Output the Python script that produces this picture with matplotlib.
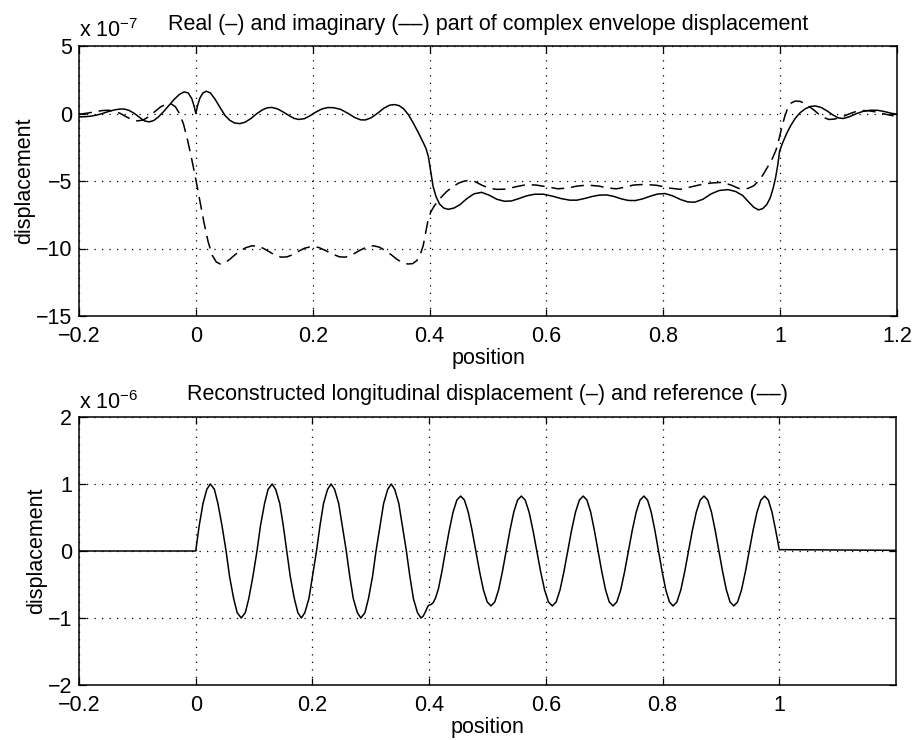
import matplotlib
matplotlib.use("Agg")
import matplotlib.pyplot as plt

plt.rcParams['font.family'] = ['Liberation Sans', 'DejaVu Sans']
plt.rcParams['mathtext.fontset'] = 'custom'
plt.rcParams['mathtext.rm'] = 'Liberation Sans'
plt.rcParams['mathtext.it'] = 'Liberation Sans'

# ---- top panel data (units of 1e-7) ----
real_x = [-0.200, -0.190, -0.180, -0.170, -0.160, -0.150, -0.140, -0.130, -0.122, -0.114,
          -0.105, -0.096, -0.088, -0.080, -0.072, -0.064, -0.055, -0.046, -0.037, -0.028,
          -0.020, -0.013, -0.007, -0.003, 0.000, 0.003, 0.007, 0.012, 0.018, 0.025,
          0.033, 0.042, 0.050, 0.058, 0.066, 0.075, 0.084, 0.094, 0.104, 0.114,
          0.122, 0.130, 0.140, 0.150, 0.160, 0.168, 0.176, 0.186, 0.196, 0.206,
          0.216, 0.226, 0.236, 0.248, 0.260, 0.272, 0.282, 0.290, 0.300, 0.312,
          0.322, 0.332, 0.340, 0.348, 0.356, 0.364, 0.372, 0.380, 0.388, 0.394,
          0.398, 0.402, 0.406, 0.411, 0.417, 0.424, 0.432, 0.442, 0.452, 0.464,
          0.476, 0.489, 0.502, 0.515, 0.528, 0.540, 0.553, 0.566, 0.580, 0.595,
          0.610, 0.625, 0.640, 0.652, 0.665, 0.678, 0.690, 0.703, 0.716, 0.728,
          0.740, 0.752, 0.765, 0.778, 0.790, 0.803, 0.816, 0.830, 0.842, 0.854,
          0.868, 0.882, 0.896, 0.911, 0.924, 0.936, 0.946, 0.955, 0.963, 0.970,
          0.977, 0.983, 0.988, 0.992, 0.996, 0.999, 1.004, 1.011, 1.018, 1.026,
          1.034, 1.043, 1.052, 1.060, 1.070, 1.080, 1.090, 1.100, 1.108, 1.118,
          1.130, 1.142, 1.154, 1.166, 1.178, 1.190, 1.200]
real_y = [-0.25, -0.24, -0.20, -0.12, 0.00, 0.14, 0.26, 0.33, 0.33, 0.22,
          0.00, -0.30, -0.55, -0.62, -0.52, -0.25, 0.15, 0.60, 1.05, 1.42,
          1.60, 1.52, 1.10, 0.55, 0.00, 0.60, 1.15, 1.52, 1.65, 1.52,
          1.05, 0.40, -0.15, -0.50, -0.70, -0.75, -0.65, -0.38, -0.02, 0.27,
          0.42, 0.45, 0.34, 0.10, -0.17, -0.36, -0.44, -0.38, -0.15, 0.12,
          0.34, 0.44, 0.43, 0.30, 0.02, -0.30, -0.47, -0.48, -0.32, 0.05,
          0.40, 0.62, 0.66, 0.58, 0.33, -0.10, -0.70, -1.35, -2.05, -2.60,
          -3.20, -4.30, -5.40, -6.15, -6.70, -7.00, -7.10, -7.00, -6.75, -6.30,
          -5.95, -5.84, -6.05, -6.35, -6.50, -6.48, -6.30, -6.10, -5.98, -5.98,
          -6.12, -6.30, -6.42, -6.42, -6.30, -6.15, -6.05, -6.03, -6.15, -6.32,
          -6.44, -6.45, -6.32, -6.12, -5.97, -5.93, -6.10, -6.38, -6.55, -6.57,
          -6.35, -5.95, -5.70, -5.64, -5.78, -6.08, -6.55, -6.95, -7.14, -7.05,
          -6.75, -6.25, -5.55, -4.80, -3.80, -2.80, -2.20, -1.50, -0.90, -0.35,
          0.05, 0.35, 0.52, 0.56, 0.45, 0.20, -0.10, -0.33, -0.37, -0.25,
          -0.02, 0.16, 0.24, 0.24, 0.15, 0.02, -0.05]

imag_x = [-0.200, -0.190, -0.180, -0.170, -0.160, -0.150, -0.140, -0.130, -0.120, -0.110,
          -0.100, -0.090, -0.080, -0.070, -0.060, -0.050, -0.042, -0.035, -0.028, -0.021,
          -0.014, -0.007, 0.000, 0.007, 0.014, 0.021, 0.028, 0.035, 0.042, 0.050,
          0.058, 0.066, 0.075, 0.085, 0.096, 0.106, 0.116, 0.126, 0.136, 0.146,
          0.156, 0.166, 0.176, 0.186, 0.198, 0.210, 0.222, 0.234, 0.246, 0.256,
          0.268, 0.280, 0.292, 0.304, 0.314, 0.324, 0.334, 0.344, 0.354, 0.363,
          0.371, 0.378, 0.384, 0.389, 0.393, 0.397, 0.402, 0.408, 0.415, 0.422,
          0.430, 0.440, 0.450, 0.460, 0.469, 0.478, 0.490, 0.503, 0.516, 0.532,
          0.548, 0.566, 0.582, 0.600, 0.620, 0.636, 0.652, 0.670, 0.690, 0.705,
          0.720, 0.735, 0.749, 0.768, 0.789, 0.810, 0.829, 0.846, 0.863, 0.882,
          0.900, 0.916, 0.932, 0.945, 0.955, 0.964, 0.972, 0.980, 0.987, 0.993,
          0.998, 1.003, 1.008, 1.013, 1.019, 1.026, 1.034, 1.042, 1.050, 1.058,
          1.066, 1.075, 1.083, 1.092, 1.100, 1.110, 1.120, 1.130, 1.140, 1.152,
          1.166, 1.180, 1.194]
imag_y = [-0.05, 0.00, 0.07, 0.15, 0.22, 0.24, 0.18, 0.02, -0.22, -0.45,
          -0.55, -0.48, -0.22, 0.15, 0.50, 0.70, 0.70, 0.50, 0.00, -0.80,
          -2.00, -3.40, -4.90, -6.50, -8.10, -9.50, -10.50, -11.00, -11.15, -11.05,
          -10.80, -10.50, -10.20, -9.95, -9.80, -9.82, -10.00, -10.25, -10.50, -10.64,
          -10.62, -10.45, -10.20, -9.98, -9.85, -9.92, -10.15, -10.42, -10.62, -10.64,
          -10.45, -10.15, -9.90, -9.80, -9.90, -10.15, -10.45, -10.80, -11.05, -11.15,
          -11.12, -10.90, -10.45, -9.80, -8.90, -8.00, -7.30, -6.85, -6.45, -6.10,
          -5.75, -5.42, -5.15, -5.00, -4.96, -5.05, -5.32, -5.55, -5.62, -5.60,
          -5.42, -5.27, -5.30, -5.42, -5.58, -5.52, -5.38, -5.30, -5.38, -5.52,
          -5.58, -5.45, -5.30, -5.25, -5.32, -5.52, -5.62, -5.45, -5.28, -5.15,
          -5.10, -5.30, -5.60, -5.55, -5.35, -4.95, -4.45, -3.85, -3.30, -2.70,
          -1.90, -1.00, -0.20, 0.40, 0.78, 0.92, 0.90, 0.75, 0.50, 0.25,
          -0.05, -0.30, -0.44, -0.42, -0.33, -0.18, 0.00, 0.15, 0.22, 0.20,
          0.10, -0.05, -0.18]

# ---- bottom panel data (units of 1e-6) ----
recon_x = [-0.200, 0.000, 0.006, 0.0125, 0.019, 0.025,
           0.032, 0.038, 0.045, 0.052, 0.058, 0.065, 0.071, 0.078,
           0.085, 0.091, 0.098, 0.105, 0.111, 0.118, 0.124, 0.131,
           0.137, 0.144, 0.150, 0.156, 0.162, 0.169, 0.175, 0.181,
           0.187, 0.194, 0.200, 0.207, 0.213, 0.219, 0.226, 0.232,
           0.238, 0.245, 0.251, 0.258, 0.264, 0.270, 0.277, 0.283,
           0.290, 0.296, 0.303, 0.309, 0.316, 0.322, 0.329, 0.335,
           0.341, 0.348, 0.354, 0.361, 0.367, 0.373, 0.380, 0.386,
           0.390, 0.394, 0.397, 0.399, 0.403, 0.407,
           0.411, 0.416, 0.422, 0.428, 0.4345, 0.441, 0.4475, 0.454,
           0.4605, 0.467, 0.4735, 0.480, 0.4865, 0.493, 0.4995, 0.506,
           0.5125, 0.519, 0.5255, 0.532, 0.5385, 0.545, 0.5515, 0.558,
           0.5646, 0.5713, 0.5779, 0.5845, 0.5911, 0.5978, 0.6044, 0.611,
           0.6176, 0.6243, 0.6309, 0.6375, 0.6441, 0.6508, 0.6574, 0.664,
           0.6704, 0.6768, 0.6831, 0.6895, 0.6959, 0.7023, 0.7086, 0.715,
           0.7216, 0.7283, 0.7349, 0.7415, 0.7481, 0.7548, 0.7614, 0.768,
           0.7743, 0.7805, 0.7868, 0.7930, 0.7993, 0.8055, 0.8118, 0.818,
           0.8246, 0.8313, 0.8379, 0.8445, 0.8511, 0.8578, 0.8644, 0.871,
           0.8774, 0.8838, 0.8901, 0.8965, 0.9029, 0.9093, 0.9156, 0.922,
           0.9286, 0.9353, 0.9419, 0.9485, 0.9551, 0.9618, 0.9684, 0.975,
           0.9813, 0.9875, 0.9938, 1.000, 1.200]
recon_y = [0.00, 0.00, 0.38, 0.71, 0.92, 1.00,
           0.92, 0.71, 0.38, 0.00, -0.38, -0.71, -0.92, -1.00,
           -0.92, -0.71, -0.38, 0.00, 0.38, 0.71, 0.92, 1.00,
           0.92, 0.71, 0.38, 0.00, -0.38, -0.71, -0.92, -1.00,
           -0.92, -0.71, -0.38, 0.00, 0.38, 0.71, 0.92, 1.00,
           0.92, 0.71, 0.38, 0.00, -0.38, -0.71, -0.92, -1.00,
           -0.92, -0.71, -0.38, 0.00, 0.38, 0.71, 0.92, 1.00,
           0.92, 0.71, 0.38, 0.00, -0.38, -0.71, -0.92, -1.00,
           -0.97, -0.90, -0.84, -0.81, -0.80, -0.77,
           -0.70, -0.56, -0.30, 0.00, 0.31, 0.58, 0.76, 0.82,
           0.76, 0.58, 0.31, 0.00, -0.31, -0.58, -0.76, -0.82,
           -0.76, -0.58, -0.31, 0.00, 0.31, 0.58, 0.76, 0.82,
           0.76, 0.58, 0.31, 0.00, -0.31, -0.58, -0.76, -0.82,
           -0.76, -0.58, -0.31, 0.00, 0.31, 0.58, 0.76, 0.82,
           0.76, 0.58, 0.31, 0.00, -0.31, -0.58, -0.76, -0.82,
           -0.76, -0.58, -0.31, 0.00, 0.31, 0.58, 0.76, 0.82,
           0.76, 0.58, 0.31, 0.00, -0.31, -0.58, -0.76, -0.82,
           -0.76, -0.58, -0.31, 0.00, 0.31, 0.58, 0.76, 0.82,
           0.76, 0.58, 0.31, 0.00, -0.31, -0.58, -0.76, -0.82,
           -0.76, -0.58, -0.31, 0.00, 0.31, 0.58, 0.76, 0.82,
           0.76, 0.58, 0.31, 0.02, 0.01]

top_xticks = [-0.2, 0, 0.2, 0.4, 0.6, 0.8, 1, 1.2]
top_xticklabels = ['\u22120.2', '0', '0.2', '0.4', '0.6', '0.8', '1', '1.2']
top_yticks = [5, 0, -5, -10, -15]
top_yticklabels = ['5', '0', '\u22125', '\u221210', '\u221215']
bot_xticks = [-0.2, 0, 0.2, 0.4, 0.6, 0.8, 1]
bot_xticklabels = ['\u22120.2', '0', '0.2', '0.4', '0.6', '0.8', '1']
bot_yticks = [2, 1, 0, -1, -2]
bot_yticklabels = ['2', '1', '0', '\u22121', '\u22122']

FS = 15.5

fig = plt.figure(figsize=(9.13, 7.40), dpi=100)
ax1 = fig.add_axes([79/913, 1-316/740, 818/913, 270/740])
ax2 = fig.add_axes([79/913, 1-685/740, 817/913, 268/740])

def style(ax):
    for s in ax.spines.values():
        s.set_linewidth(1.1)
        s.set_color('black')
    ax.tick_params(direction='in', length=5, width=0.9, top=True, right=True,
                   labelsize=FS, colors='black')
    ax.tick_params(axis='x', pad=7)
    ax.tick_params(axis='y', pad=5)
    ax.grid(True, color='black', linestyle=(0, (1, 5)), linewidth=0.9)

ax1.plot(real_x, real_y, color='black', lw=1.1, solid_joinstyle='round')
l2, = ax1.plot(imag_x, imag_y, color='black', lw=1.1)
l2.set_dashes([8.5, 4.5])
ax1.set_xlim(-0.2, 1.2)
ax1.set_ylim(-15, 5)
ax1.set_xticks(top_xticks)
ax1.set_xticklabels(top_xticklabels)
ax1.set_yticks(top_yticks)
ax1.set_yticklabels(top_yticklabels)
style(ax1)
ax1.set_xlabel('position', fontsize=FS, labelpad=1)
ax1.set_ylabel('displacement', fontsize=FS, labelpad=0)
ax1.set_title('Real (\u2013) and imaginary (\u2013\u2013) part of complex envelope displacement',
              fontsize=FS, pad=11.5)
ax1.annotate('x 10$^{\u22127}$', xy=(0, 1), xycoords='axes fraction',
             xytext=(0, 6.5), textcoords='offset points', fontsize=FS,
             ha='left', va='baseline')

ax2.plot(recon_x, recon_y, color='black', lw=1.1, solid_joinstyle='round')
ax2.set_xlim(-0.2, 1.2)
ax2.set_ylim(-2, 2)
ax2.set_xticks(bot_xticks)
ax2.set_xticklabels(bot_xticklabels)
ax2.set_yticks(bot_yticks)
ax2.set_yticklabels(bot_yticklabels)
style(ax2)
ax2.set_xlabel('position', fontsize=FS, labelpad=1)
ax2.set_ylabel('displacement', fontsize=FS, labelpad=0)
ax2.set_title('Reconstructed longitudinal displacement (\u2013) and reference (\u2013\u2013)',
              fontsize=FS, pad=12)
ax2.annotate('x 10$^{\u22126}$', xy=(0, 1), xycoords='axes fraction',
             xytext=(0, 5.5), textcoords='offset points', fontsize=FS,
             ha='left', va='baseline')

fig.savefig('out.png', dpi=100)
